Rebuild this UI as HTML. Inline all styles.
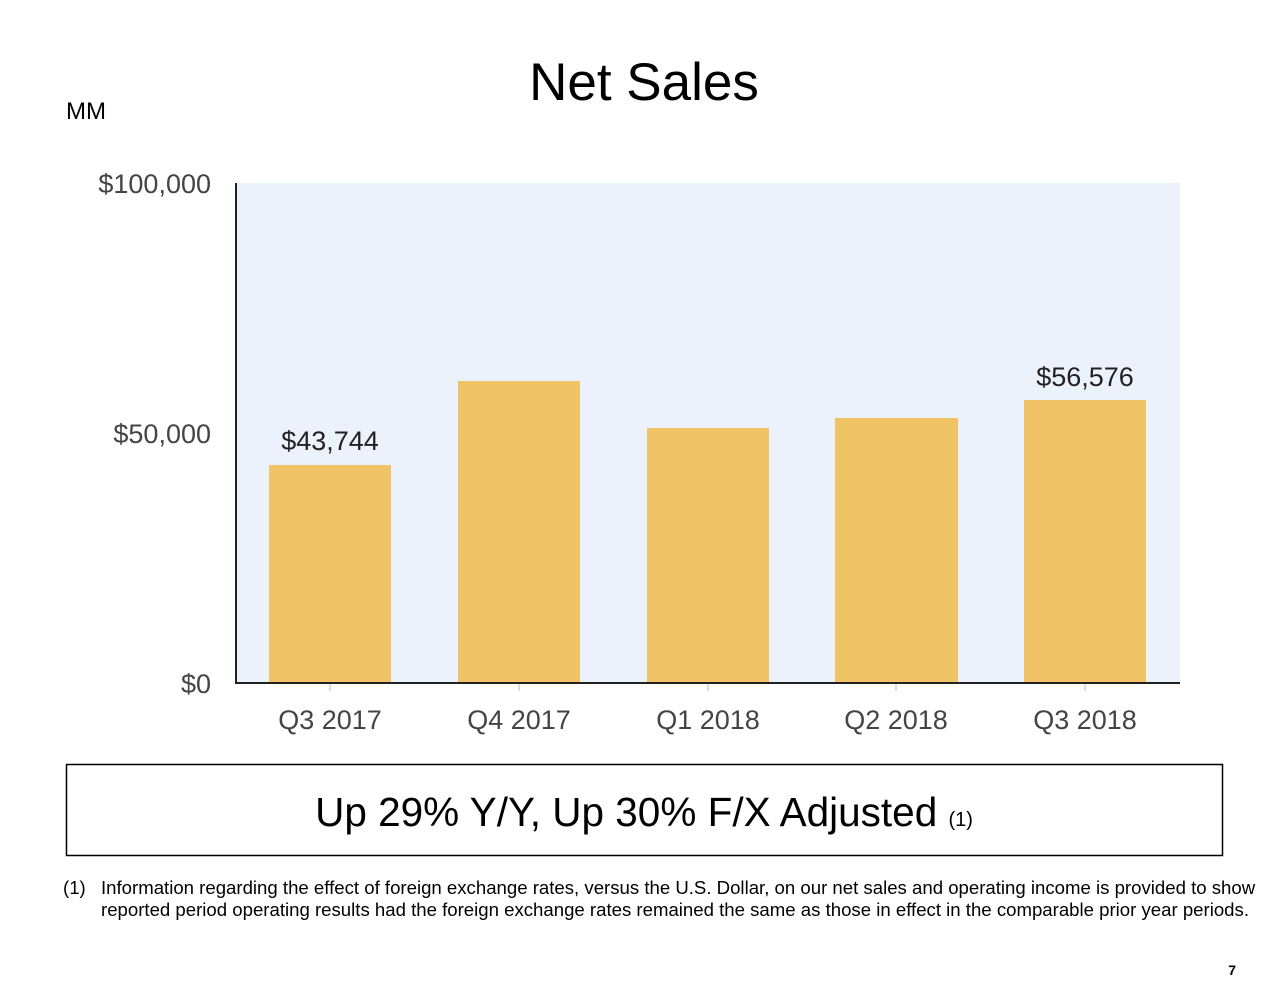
<!DOCTYPE html>
<html><head><meta charset="utf-8"><style>
body{margin:0;background:#fff;font-family:"Liberation Sans",Arial,sans-serif;}
.wrap{position:relative;width:1280px;height:981px;overflow:hidden;}
</style></head><body><div class="wrap">
<svg width="1280" height="981" xmlns="http://www.w3.org/2000/svg" style="position:absolute;left:0;top:0;font-family:'Liberation Sans',Arial,sans-serif">
<text x="644" y="100" font-size="53" text-anchor="middle" fill="#000">Net Sales</text>
<text x="66" y="119" font-size="24" fill="#000">MM</text>
<rect x="236" y="183" width="944" height="500" fill="#EBF2FC"/>
<g fill="#F0C366">
<rect x="269" y="465" width="122" height="218"/>
<rect x="458" y="381" width="122" height="302"/>
<rect x="647" y="428" width="122" height="255"/>
<rect x="835" y="418" width="123" height="265"/>
<rect x="1024" y="400" width="122" height="283"/>
</g>
<line x1="236" y1="183" x2="236" y2="684" stroke="#222" stroke-width="2"/>
<line x1="235" y1="683" x2="1180" y2="683" stroke="#222" stroke-width="2"/>
<g stroke="#bbb" stroke-width="1">
<line x1="330" y1="684" x2="330" y2="691"/><line x1="519" y1="684" x2="519" y2="691"/>
<line x1="708" y1="684" x2="708" y2="691"/><line x1="896" y1="684" x2="896" y2="691"/>
<line x1="1085" y1="684" x2="1085" y2="691"/>
</g>
<g font-size="27" fill="#444" text-anchor="end">
<text x="211" y="193">$100,000</text>
<text x="211" y="443">$50,000</text>
<text x="211" y="693">$0</text>
</g>
<g font-size="27" fill="#444" text-anchor="middle">
<text x="330" y="729">Q3 2017</text><text x="519" y="729">Q4 2017</text>
<text x="708" y="729">Q1 2018</text><text x="896" y="729">Q2 2018</text>
<text x="1085" y="729">Q3 2018</text>
</g>
<g font-size="27" fill="#222" text-anchor="middle">
<text x="330" y="450">$43,744</text>
<text x="1085" y="386">$56,576</text>
</g>
<rect x="66.5" y="764.5" width="1156" height="91" fill="none" stroke="#000" stroke-width="1.5"/>
<text x="644" y="826" font-size="40.5" text-anchor="middle" fill="#000">Up 29% Y/Y, Up 30% F/X Adjusted <tspan font-size="20">(1)</tspan></text>
<g font-size="18.6" fill="#000">
<text x="63" y="894">(1)</text>
<text x="101" y="894">Information regarding the effect of foreign exchange rates, versus the U.S. Dollar, on our net sales and operating income is provided to show</text>
<text x="101" y="916">reported period operating results had the foreign exchange rates remained the same as those in effect in the comparable prior year periods.</text>
</g>
<text x="1236" y="975" font-size="14" font-weight="bold" text-anchor="end">7</text>
</svg>
</div></body></html>
